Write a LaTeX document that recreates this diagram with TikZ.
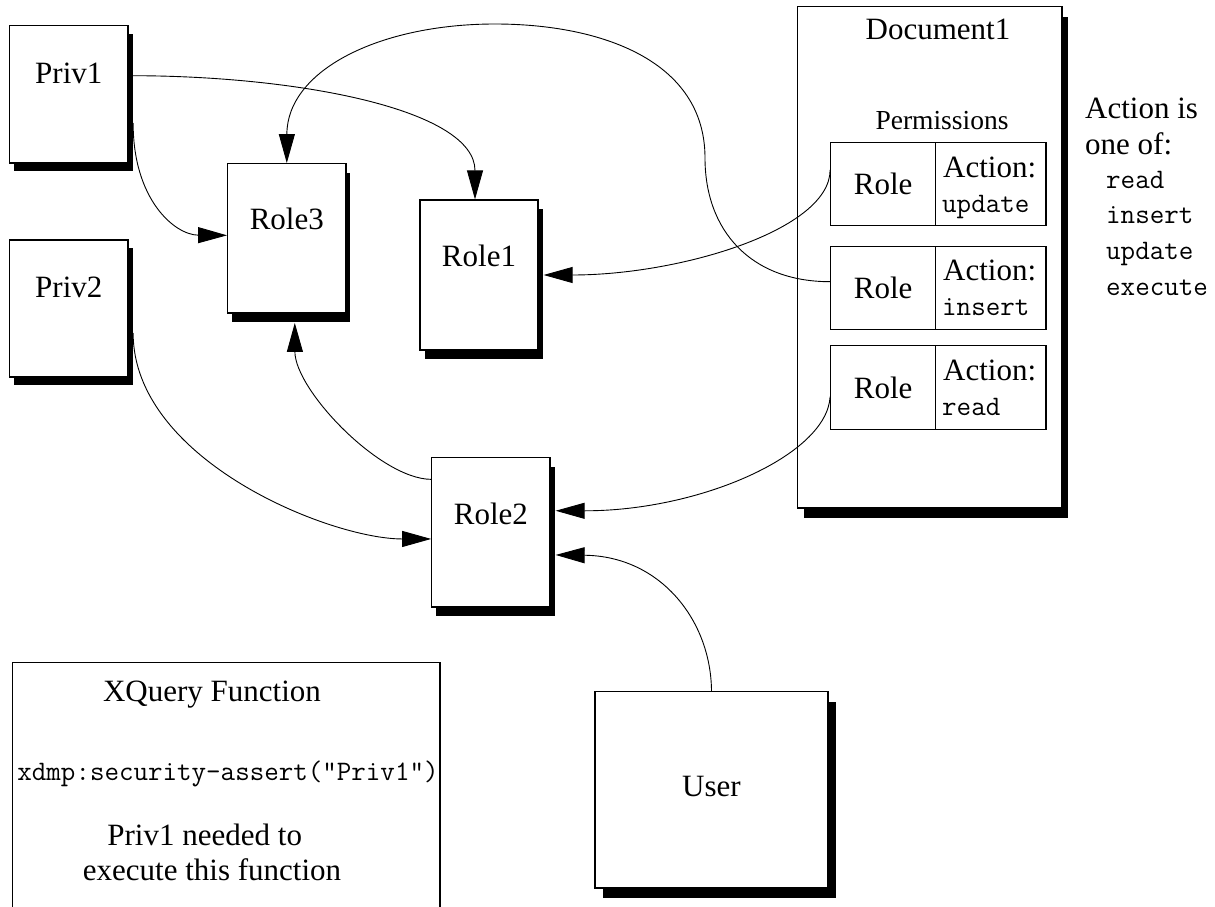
\documentclass[tikz,border=0pt]{standalone}
\usepackage{fontspec}
\setmainfont{Liberation Serif}
\usetikzlibrary{arrows.meta,shadows,calc}
\begin{document}
\begin{tikzpicture}[x=1pt,y=-1pt,
  big/.style={font=\fontsize{31}{36}\selectfont},
  mid/.style={font=\fontsize{27.5}{31}\selectfont},
  mono/.style={font=\ttfamily\fontsize{28.2}{31}\selectfont},
  box/.style={draw, line width=1.2pt, fill=white, inner sep=0pt, big},
  shadowed/.style 2 args={general shadow={fill=black, shadow xshift=#1, shadow yshift=#2}},
  cell/.style={draw, line width=1.2pt, fill=white, inner sep=0pt, minimum height=83.6pt, big},
  txt/.style={inner sep=0pt},
  conn/.style={line width=0.9pt, -{Triangle[length=29pt,width=16pt]}}
]
\useasboundingbox (0,0) rectangle (1215,907);
\clip (0,0) rectangle (1215,907);

% boxes
\node[box, shadowed={4.5pt}{-8pt}, minimum width=118.5pt, text height=58.3pt, text depth=79pt] (priv1) at (68.8,94.35) {Priv1};
\node[box, shadowed={4.5pt}{-8pt}, minimum width=118.5pt, text height=57.7pt, text depth=79.3pt] (priv2) at (68.8,308.5) {Priv2};
\node[box, shadowed={4.5pt}{-9pt}, minimum width=118.3pt, text height=65.6pt, text depth=83.7pt] (role3) at (286.8,238.35) {Role3};
\node[box, shadowed={4.5pt}{-8.5pt}, minimum width=118pt, text height=66.7pt, text depth=83.3pt] (role1) at (479,275) {Role1};
\node[box, shadowed={4.5pt}{-9pt}, minimum width=118.3pt, text height=66.3pt, text depth=83pt] (role2) at (490.9,532.35) {Role2};
\node[box, shadowed={8pt}{-10pt}, minimum width=233pt, text height=104.3pt, text depth=92pt] (user) at (711.5,789.85) {User};

% document
\node[box, shadowed={6pt}{-10pt}, minimum width=264.3pt, minimum height=501.3pt] (doc) at (929.85,257.35) {};
\node[big, txt, anchor=base] (doctitle) at (938,40) {Document1};
\node[mid, txt, anchor=base] (perm) at (942,129.3) {Permissions};

\node[cell, minimum width=105pt] (r1) at (883.2,184) {Role};
\node[cell, minimum width=110.3pt] (a1) at (990.85,184) {};
\node[big, txt, anchor=base west] (a1t) at (943,177) {Action:};
\node[mono, txt, anchor=base west] (a1v) at (942,212.7) {update};

\node[cell, minimum width=105pt] (r2) at (883.2,288) {Role};
\node[cell, minimum width=110.3pt] (a2) at (990.85,288) {};
\node[big, txt, anchor=base west] (a2t) at (943,280) {Action:};
\node[mono, txt, anchor=base west] (a2v) at (942,315) {insert};

\node[cell, minimum width=105pt] (r3) at (883.2,387.5) {Role};
\node[cell, minimum width=110.3pt] (a3) at (990.85,387.5) {};
\node[big, txt, anchor=base west] (a3t) at (943,380) {Action:};
\node[mono, txt, anchor=base west] (a3v) at (942,415) {read};

% action list
\node[big, txt, anchor=base west] (al1) at (1085,118) {Action is};
\node[big, txt, anchor=base west] (al2) at (1085,154) {one of:};
\node[mono, txt, anchor=base west] (al3) at (1106,188.3) {read};
\node[mono, txt, anchor=base west] (al4) at (1106,223.3) {insert};
\node[mono, txt, anchor=base west] (al5) at (1106,259) {update};
\node[mono, txt, anchor=base west] (al6) at (1106,295) {execute};

% xquery box
\node[draw, line width=1.3pt, minimum width=427.6pt, minimum height=300pt, anchor=north west] (xq) at (11.7,661.7) {};
\node[big, txt, anchor=base] (xq1) at (212,701.7) {XQuery Function};
\node[mono, txt, anchor=base] (xq2) at (228,780) {xdmp:security-assert("Priv1")};
\node[big, txt, anchor=base] (xq3) at (204.7,845) {Priv1 needed to};
\node[big, txt, anchor=base] (xq4) at (212,880) {execute this function};

% connectors
\draw[conn] ($(priv1.east)+(4.5,28.65)$) .. controls (133,200) and (175,235) .. ($(role3.west)+(0,-3)$);
\draw[conn] ($(priv1.east)+(4.5,-18.65)$) .. controls (300,76) and (475,110) .. ($(role1.north)+(-4,0)$);
\draw[conn] ($(r1.west)+(0,-14)$) .. controls (830,230) and (680,275) .. ($(role1.east)+(5,0)$);
\draw[conn] ($(r2.west)+(0,-6.3)$) .. controls (750,281.7) and (705,230) .. (705,158)
   .. controls (705,60) and (600,24) .. (495,24)
   .. controls (380,24) and (287,70) .. (role3.north);
\draw[conn] ($(r3.west)+(0,9.2)$) .. controls (827,455) and (700,511) .. ($(role2.east)+(5,-21.6)$);
\draw[conn] ($(role2.west)+(0,-53)$) .. controls (380,479) and (295,390) .. ($(role3.south)+(8,9.3)$);
\draw[conn] ($(priv2.east)+(4.5,24.5)$) .. controls (133,460) and (330,539) .. ($(role2.west)+(0,6.6)$);
\draw[conn] (user.north) .. controls (711,620) and (660,556) .. ($(role2.east)+(5,22.6)$);
\end{tikzpicture}
\end{document}
